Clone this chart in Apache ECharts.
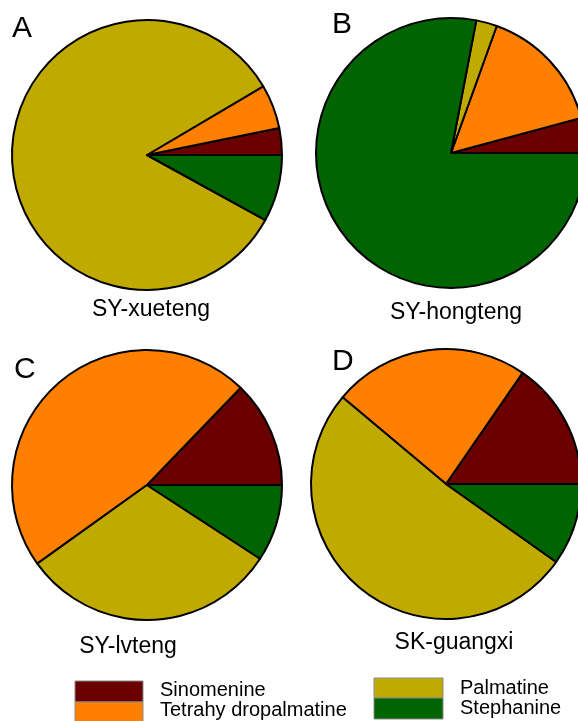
<!DOCTYPE html>
<html>
<head>
<meta charset="utf-8">
<script src="https://cdn.jsdelivr.net/npm/echarts@6/dist/echarts.min.js"></script>
<style>html,body{margin:0;padding:0;background:#fff}#c{width:578px;height:721px}</style>
</head>
<body>
<div id="c"></div>
<script>
var compounds = ['Sinomenine', 'Tetrahy dropalmatine', 'Palmatine', 'Stephanine'];
var colors = ['#6b0000', '#ff8000', '#c0aa00', '#006400'];
var samples = ['SY-xueteng', 'SY-hongteng', 'SY-lvteng', 'SK-guangxi'];
var panelLetters = ['A', 'B', 'C', 'D'];
// percentage composition per sample (Sinomenine, THP, Palmatine, Stephanine)
var valuesA = [3.2, 5.3, 83.5, 8.0];
var valuesB = [4.2, 15.3, 2.5, 78.0];
var valuesC = [12.8, 47.1, 30.9, 9.2];
var valuesD = [15.4, 23.5, 51.3, 9.8];
var allValues = [valuesA, valuesB, valuesC, valuesD];

var centers = [[147, 155], [451, 153], [147, 485], [446, 484]];
var radius = 135;
var letterPos = [[12, 29], [332, 25], [14, 370], [332, 362]];
var namePos = [[151, 309.5], [456, 312.5], [128, 647], [454, 643]];
var legendBoxes = [[75, 681, 68, 21], [75, 702, 68, 20], [374, 678, 69, 20], [374, 698, 69, 21]];
var legendText = [[160, 690], [160, 710], [460, 688], [460, 708]];
var FONT = '"Liberation Sans", Arial, sans-serif';

var chart = echarts.init(document.getElementById('c'), null, {renderer: 'canvas'});
var series = allValues.map(function (vals, i) {
  return {
    type: 'pie',
    center: centers[i],
    radius: radius,
    startAngle: 0,
    clockwise: false,
    label: {show: false},
    labelLine: {show: false},
    emphasis: {disabled: true},
    itemStyle: {borderColor: '#000', borderWidth: 2},
    data: vals.map(function (v, j) {
      return {name: compounds[j], value: v, itemStyle: {color: colors[j]}};
    })
  };
});

var graphics = [];
panelLetters.forEach(function (L, i) {
  graphics.push({type: 'text', x: letterPos[i][0], y: letterPos[i][1],
    style: {text: L, font: '30px ' + FONT, fill: '#000', textAlign: 'left', textVerticalAlign: 'middle'}});
  graphics.push({type: 'text', x: namePos[i][0], y: namePos[i][1],
    style: {text: samples[i], font: '23px ' + FONT, fill: '#000', textAlign: 'center', textVerticalAlign: 'middle'}});
});
compounds.forEach(function (n, j) {
  var b = legendBoxes[j];
  graphics.push({type: 'rect', shape: {x: b[0], y: b[1], width: b[2], height: b[3]},
    style: {fill: colors[j], stroke: '#8a8a8a', lineWidth: 1}});
  graphics.push({type: 'text', x: legendText[j][0], y: legendText[j][1],
    style: {text: n, font: '20px ' + FONT, fill: '#000', textAlign: 'left', textVerticalAlign: 'middle'}});
});

chart.setOption({
  animation: false,
  backgroundColor: '#fff',
  series: series,
  graphic: graphics
});
</script>
</body>
</html>
